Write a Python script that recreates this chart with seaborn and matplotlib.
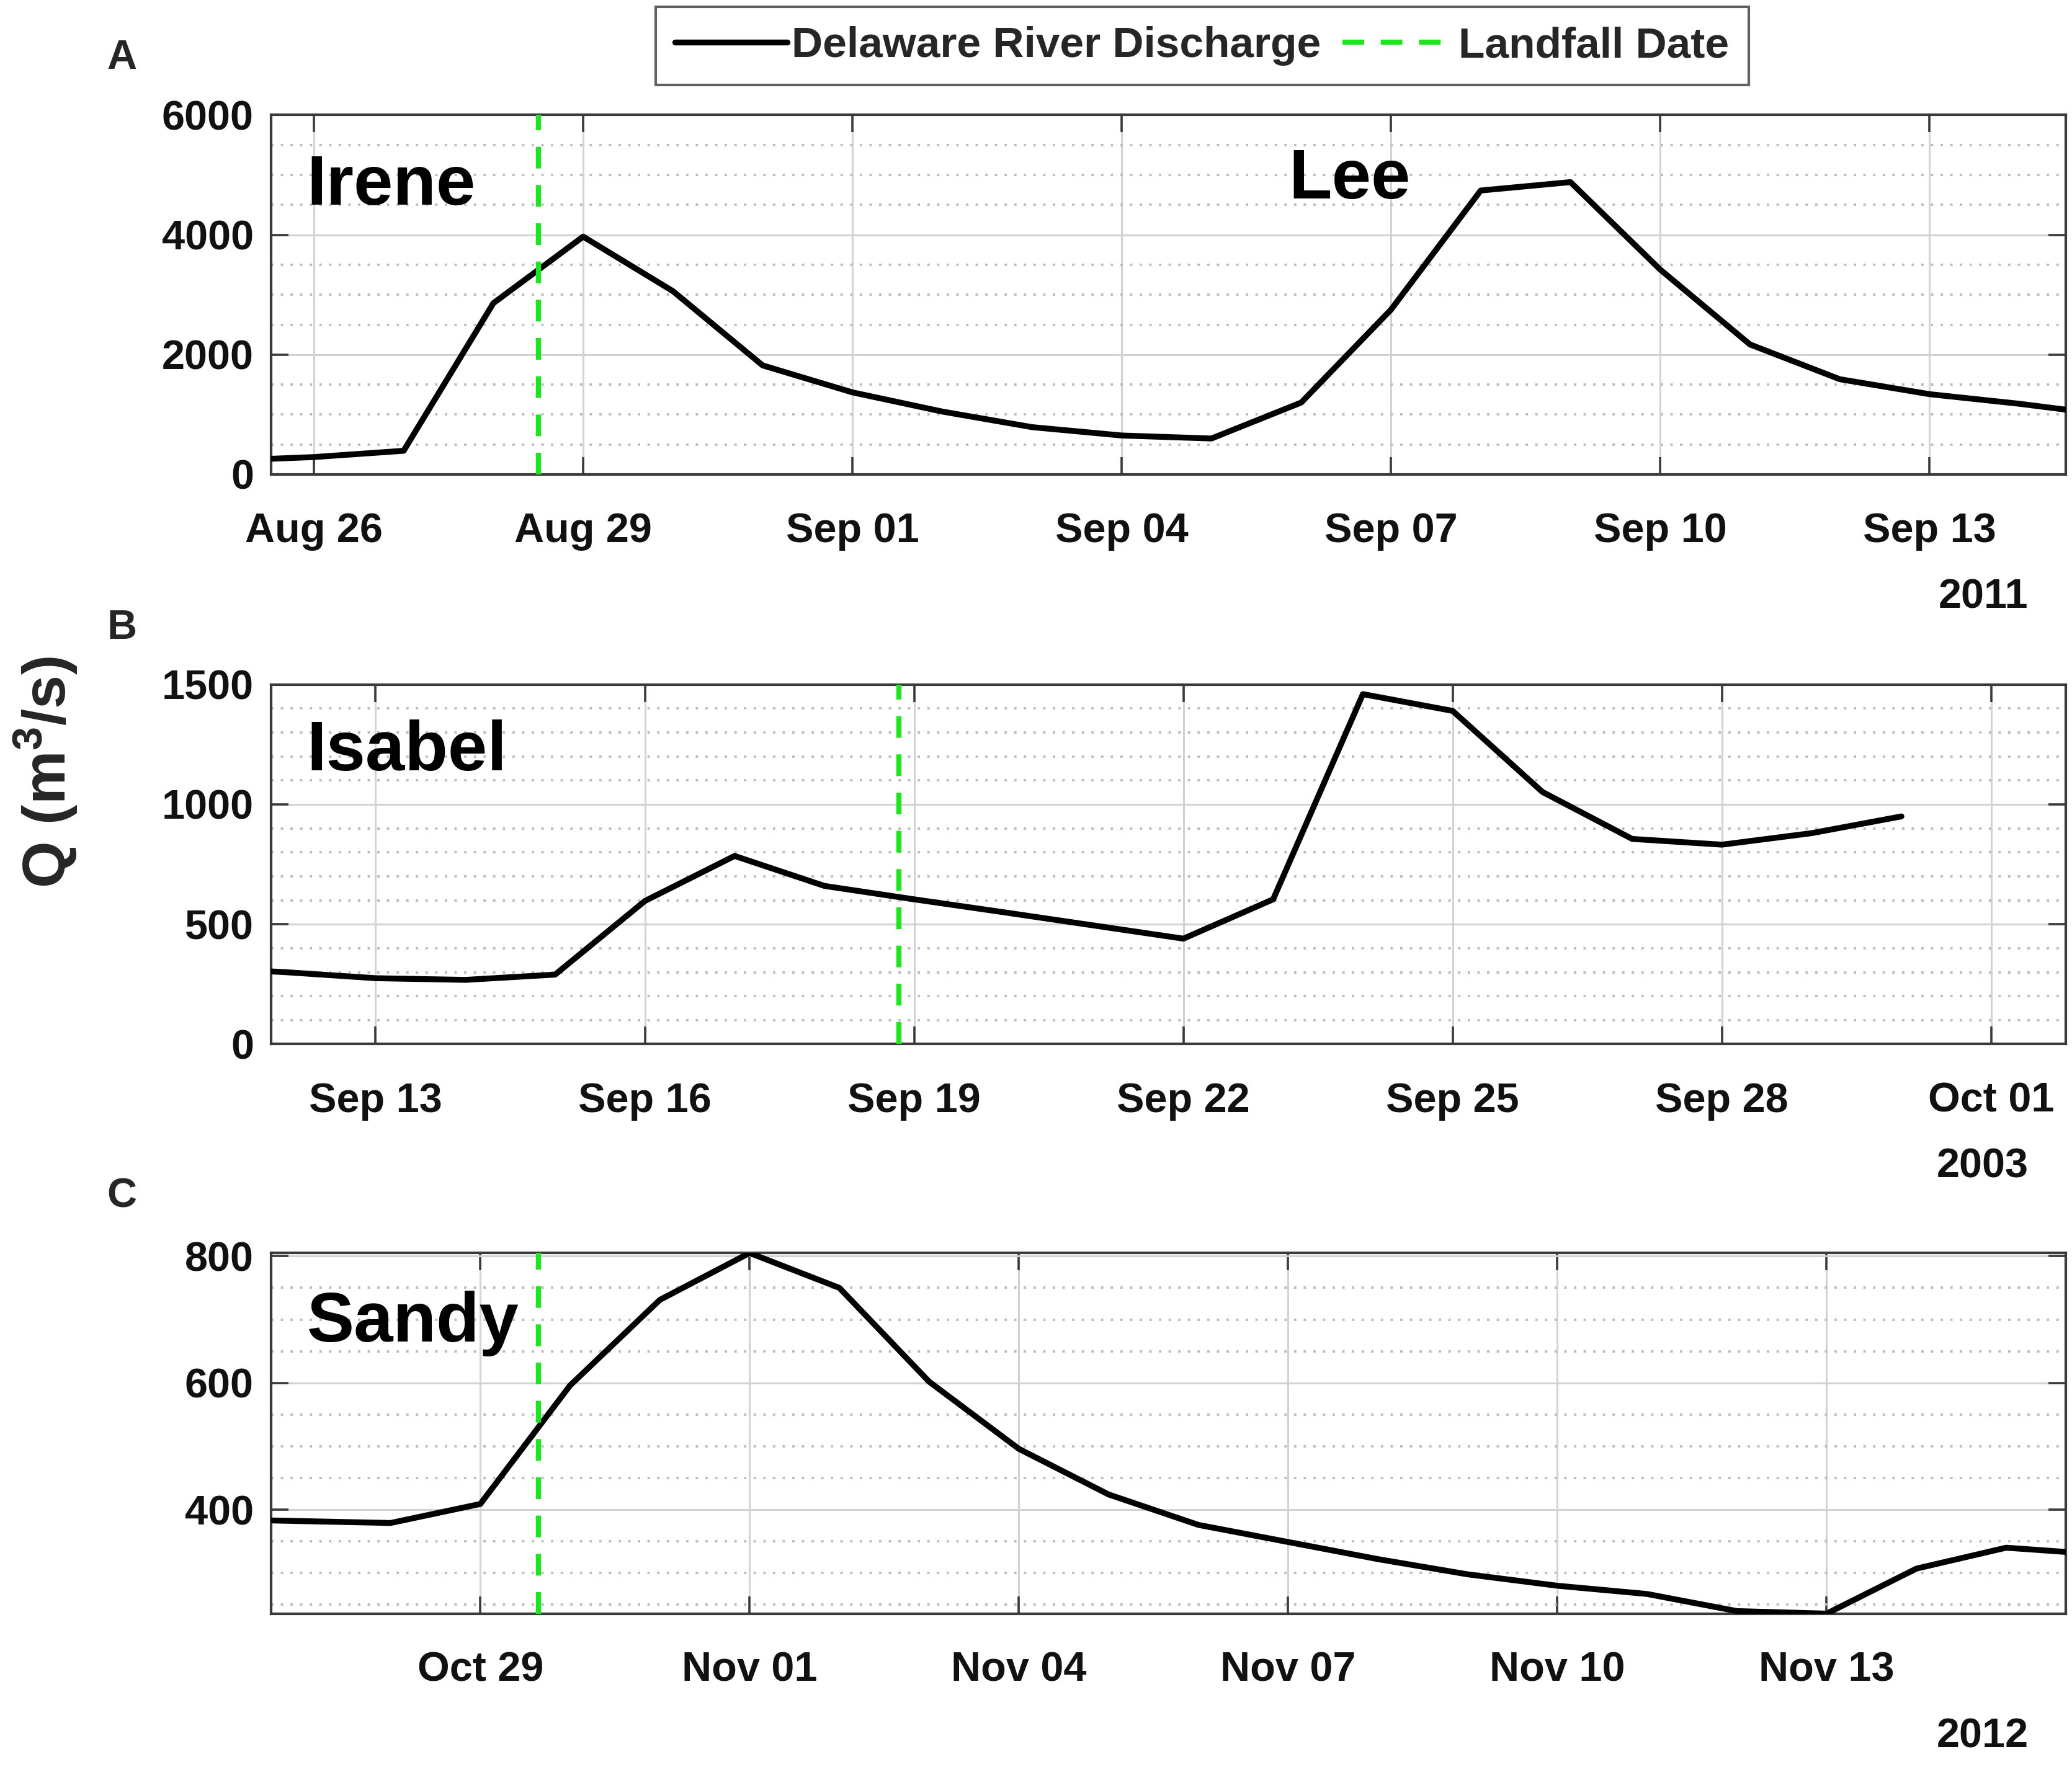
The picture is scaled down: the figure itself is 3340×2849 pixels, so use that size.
import numpy as np
import pandas as pd
import matplotlib
matplotlib.use('Agg')
import matplotlib.pyplot as plt
import matplotlib.dates as mdates
from matplotlib.ticker import MultipleLocator, FixedLocator
from matplotlib.lines import Line2D
import seaborn as sns

# ---------------- data ----------------
# Panel A: Irene & Lee (2011), daily discharge starting 2011-08-25
a_start = "2011-08-25"
a_q = [230, 290, 395, 2860, 3970, 3060, 1820, 1370, 1050, 790, 650, 600,
       1200, 2750, 4740, 4880, 3420, 2170, 1590, 1340, 1180, 990]
a_landfall = "2011-08-28 12:00"
a_xlim = ("2011-08-25 12:30", "2011-09-14 12:30")
a_ticks = ["2011-08-26", "2011-08-29", "2011-09-01", "2011-09-04",
           "2011-09-07", "2011-09-10", "2011-09-13"]
a_ylim = (0, 6000)
a_yticks = [0, 2000, 4000, 6000]
a_storms = ["Irene", "Lee"]
a_year = "2011"

# Panel B: Isabel (2003), daily discharge starting 2003-09-11
b_start = "2003-09-11"
b_q = [320, 300, 275, 268, 290, 597, 785, 660, 604, 550, 495, 440,
       604, 1460, 1390, 1052, 856, 832, 880, 950]
b_landfall = "2003-09-18 20:00"
b_xlim = ("2003-09-11 20:00", "2003-10-01 20:00")
b_ticks = ["2003-09-13", "2003-09-16", "2003-09-19", "2003-09-22",
           "2003-09-25", "2003-09-28", "2003-10-01"]
b_ylim = (0, 1500)
b_yticks = [0, 500, 1000, 1500]
b_storms = ["Isabel"]
b_year = "2003"

# Panel C: Sandy (2012), daily discharge starting 2012-10-26
c_start = "2012-10-26"
c_q = [385, 382, 379, 409, 596, 731, 805, 750, 602, 496, 424, 376,
       349, 322, 298, 280, 267, 240, 236, 307, 340, 330]
c_landfall = "2012-10-29 15:30"
c_xlim = ("2012-10-26 16:00", "2012-11-15 16:00")
c_ticks = ["2012-10-29", "2012-11-01", "2012-11-04", "2012-11-07",
           "2012-11-10", "2012-11-13"]
c_ylim = (236, 805)
c_yticks = [400, 600, 800]
c_storms = ["Sandy"]
c_year = "2012"

# ---------------- style ----------------
sns.set_theme(style="white")
plt.rcParams['font.family'] = ['Liberation Sans', 'DejaVu Sans']
plt.rcParams['font.weight'] = 'bold'
plt.rcParams['axes.labelweight'] = 'bold'
plt.rcParams['mathtext.fontset'] = 'custom'
plt.rcParams['mathtext.rm'] = 'Liberation Sans'
plt.rcParams['mathtext.bf'] = 'Liberation Sans:bold'

FS = 24
LINE_W = 3.4
GREEN = '#1EE61E'
FRAME = '#3a3a3a'

fig = plt.figure(figsize=(16.705, 14.245), dpi=200)

positions = [
    [0.1307, 0.7315, 0.8661, 0.2034],
    [0.1307, 0.4091, 0.8661, 0.2035],
    [0.1307, 0.0868, 0.8661, 0.2041],
]

panels = [
    (a_start, a_q, a_landfall, a_xlim, a_ticks, a_ylim, a_yticks, 500,
     a_storms, [(0.02, 0.75), (0.567, 0.768)], a_year, "A"),
    (b_start, b_q, b_landfall, b_xlim, b_ticks, b_ylim, b_yticks, 100,
     b_storms, [(0.02, 0.761)], b_year, "B"),
    (c_start, c_q, c_landfall, c_xlim, c_ticks, c_ylim, c_yticks, 50,
     c_storms, [(0.02, 0.755)], c_year, "C"),
]

axes = []
for pos, (start, q, landfall, xlim, ticks, ylim, yticks, minor, storms,
          storm_pos, year, letter) in zip(positions, panels):
    ax = fig.add_axes(pos)
    axes.append(ax)
    df = pd.DataFrame({"date": pd.date_range(start, periods=len(q), freq="D"),
                       "Q": q})
    sns.lineplot(data=df, x="date", y="Q", ax=ax, color="black",
                 lw=LINE_W, legend=False, zorder=3)
    ax.axvline(pd.Timestamp(landfall), color=GREEN, lw=3.0,
               ls=(0, (4.2, 3.2)), zorder=4)
    ax.set_xlim(pd.Timestamp(xlim[0]), pd.Timestamp(xlim[1]))
    ax.set_ylim(*ylim)
    ax.xaxis.set_major_locator(FixedLocator(mdates.date2num(pd.to_datetime(ticks))))
    ax.xaxis.set_major_formatter(mdates.DateFormatter("%b %d"))
    ax.yaxis.set_major_locator(FixedLocator(yticks))
    ax.yaxis.set_minor_locator(MultipleLocator(minor))
    ax.set_xlabel("")
    ax.set_ylabel("")
    ax.grid(True, which="major", color="#d2d2d2", lw=1.1, ls="-", zorder=0)
    ax.grid(True, which="minor", axis="y", color="#bdbdbd", lw=1.4,
            ls=(0, (1, 3)), zorder=0)
    ax.tick_params(axis="both", which="major", direction="in", length=10,
                   width=1.3, color=FRAME, labelsize=FS, top=True,
                   right=True, bottom=True, left=True)
    ax.tick_params(axis="y", which="minor", length=0)
    ax.tick_params(axis="x", which="major", pad=22)
    ax.tick_params(axis="y", which="major", pad=10)
    for lab in ax.get_xticklabels() + ax.get_yticklabels():
        lab.set_fontweight("bold")
        lab.set_color("#111111")
    for sp in ax.spines.values():
        sp.set_color(FRAME)
        sp.set_linewidth(1.5)
        sp.set_visible(True)
    for name, (sx, sy) in zip(storms, storm_pos):
        ax.text(sx, sy, name, transform=ax.transAxes, fontsize=41,
                fontweight="bold", color="black", ha="left",
                va="baseline", zorder=5)
    ax.text(0.979, -0.342, year, transform=ax.transAxes, fontsize=FS,
            fontweight="bold", ha="right", va="center", color="#111111")
    fig.text(pos[0] - 0.072, pos[1] + pos[3] + 0.032, letter, fontsize=FS,
             fontweight="bold", ha="center", va="center")

fig.text(0.022, 0.563, "Q (m$^{3}$/s)", rotation=90, fontsize=35,
         fontweight="bold", ha="center", va="center")

handles = [Line2D([], [], color="black", lw=LINE_W),
           Line2D([], [], color=GREEN, lw=3.0, ls=(0, (4.2, 3.2)))]
leg = fig.legend(handles, ["Delaware River Discharge", "Landfall Date"],
                 loc="center", bbox_to_anchor=(0.58, 0.974), ncol=2,
                 frameon=True, fancybox=False,
                 prop={"weight": "bold", "size": 25},
                 handlelength=2.6, handletextpad=0.1, columnspacing=0.5,
                 borderpad=0.45, borderaxespad=0.0)
leg.get_frame().set_edgecolor(FRAME)
leg.get_frame().set_linewidth(1.5)

fig.savefig("out.png", dpi=200, facecolor="white")
